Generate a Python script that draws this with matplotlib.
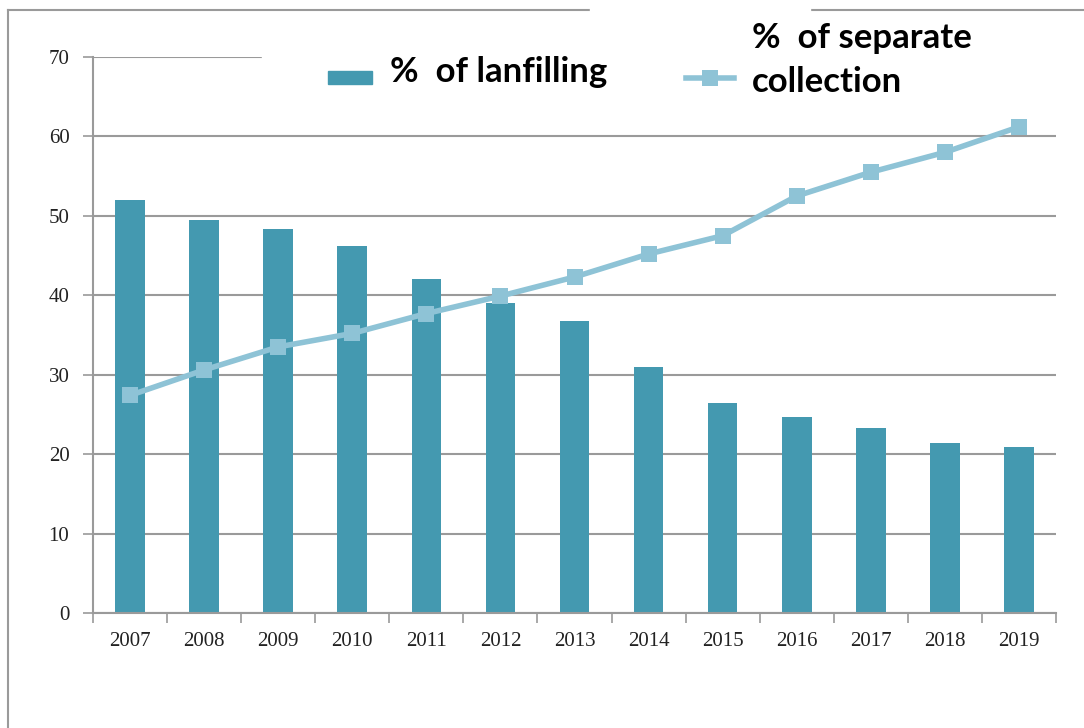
import matplotlib.pyplot as plt
import matplotlib.patches as mpatches
from matplotlib.lines import Line2D

years = ['2007', '2008', '2009', '2010', '2011', '2012', '2013',
         '2014', '2015', '2016', '2017', '2018', '2019']
landfilling = [52.0, 49.5, 48.3, 46.2, 42.0, 39.0, 36.8, 31.0, 26.4, 24.7, 23.3, 21.4, 20.9]
separate = [27.4, 30.6, 33.5, 35.2, 37.7, 39.9, 42.3, 45.2, 47.5, 52.5, 55.5, 58.0, 61.2]

bar_color = '#4499b0'
line_color = '#8ec3d6'
grid_color = '#9a9a9a'

W, H = 1084, 728
fig = plt.figure(figsize=(W / 100, H / 100), dpi=100)

ax = fig.add_axes([93 / W, 1 - 613 / H, (1056 - 93) / W, (613 - 57) / H])
x = list(range(len(years)))
ax.bar(x, landfilling, width=0.4, color=bar_color, zorder=2)
ax.plot(x, separate, color=line_color, lw=4, marker='s', ms=12,
        markeredgewidth=0, zorder=3)

ax.set_xlim(-0.5, len(years) - 0.5)
ax.set_ylim(0, 70)
ax.set_yticks(range(0, 71, 10))
ax.set_xticks(x)
ax.set_xticklabels(years)
ax.set_xticks([i - 0.5 for i in range(len(years) + 1)], minor=True)
ax.yaxis.grid(True, color=grid_color, lw=1.5, zorder=0)
ax.set_axisbelow(True)

for s in ['top', 'right']:
    ax.spines[s].set_visible(False)
for s in ['left', 'bottom']:
    ax.spines[s].set_color(grid_color)
    ax.spines[s].set_linewidth(1.5)

ax.tick_params(axis='x', which='major', length=0, pad=14)
ax.tick_params(axis='x', which='minor', length=7, width=1.2, color=grid_color)
ax.tick_params(axis='y', length=7, width=1.2, color=grid_color, pad=10)
for lab in ax.get_xticklabels() + ax.get_yticklabels():
    lab.set_fontfamily('Liberation Serif')
    lab.set_fontsize(15)
    lab.set_color('#222222')

# outer frame lines
fig.add_artist(Line2D([8 / W, 8 / W], [0, 1 - 10 / H], color=grid_color, lw=1.5))
fig.add_artist(Line2D([8 / W, 1], [1 - 10 / H, 1 - 10 / H], color=grid_color, lw=1.5))

# white boxes behind the legend
fig.add_artist(mpatches.Rectangle((262 / W, 1 - 108 / H), 1 - 262 / W, 88 / H,
                                  transform=fig.transFigure, color='white', zorder=5))
fig.add_artist(mpatches.Rectangle((590 / W, 1 - 22 / H), 220 / W, 22 / H,
                                  transform=fig.transFigure, color='white', zorder=5))

# legend entries
fig.add_artist(mpatches.Rectangle((328 / W, 1 - 84 / H), 44 / W, 13 / H,
                                  transform=fig.transFigure, color=bar_color, zorder=6))
fig.text(390 / W, 1 - 72 / H, '%  of lanfilling', fontsize=25, fontweight='bold',
         family='Lato', va='center', ha='left', zorder=6)
fig.add_artist(Line2D([686 / W, 710 / W, 734 / W], [1 - 78 / H] * 3, color=line_color,
                      lw=4, marker='s', ms=12, markeredgewidth=0,
                      markevery=[1], zorder=6))
fig.text(752 / W, 1 - 38 / H, '%  of separate', fontsize=25, fontweight='bold',
         family='Lato', va='center', ha='left', zorder=6)
fig.text(752 / W, 1 - 82 / H, 'collection', fontsize=25, fontweight='bold',
         family='Lato', va='center', ha='left', zorder=6)

fig.savefig('out.png', dpi=100)
